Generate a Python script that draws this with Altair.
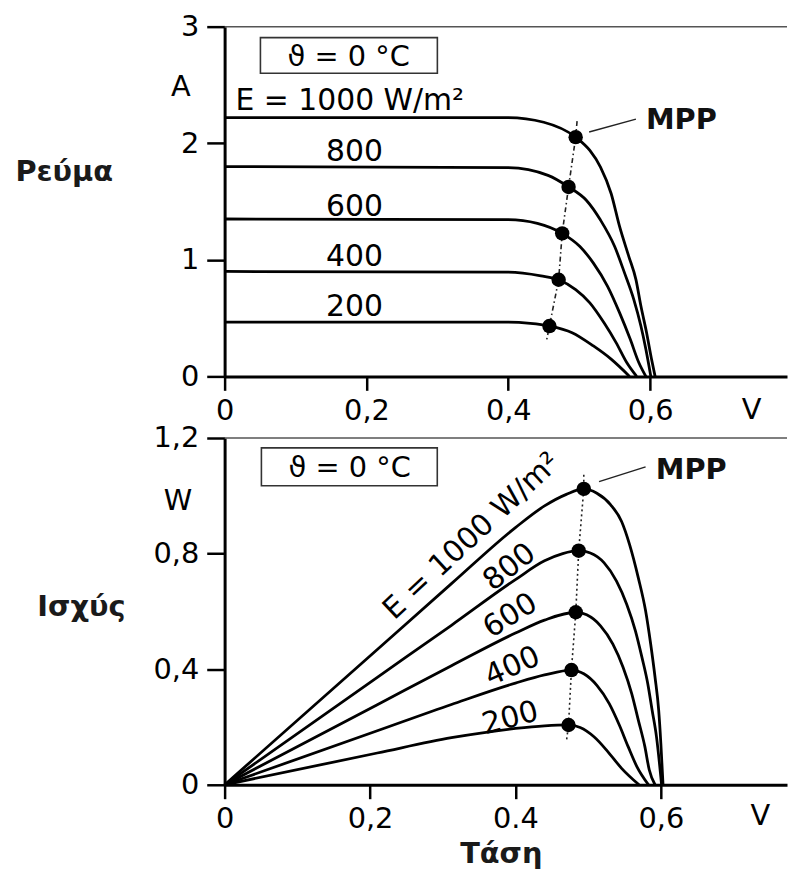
import altair as alt
import pandas as pd

FONT = "DejaVu Sans"

# ---------------- I-V curves (top panel) ----------------
iv_v_1000 = [0, 0.40, 0.45, 0.495, 0.515, 0.530, 0.545, 0.557, 0.570, 0.580, 0.587, 0.595, 0.602, 0.607]
iv_i_1000 = [2.22, 2.22, 2.18, 2.052, 1.938, 1.796, 1.569, 1.284, 1.028, 0.830, 0.603, 0.375, 0.148, 0.0]
iv_v_800 = [0, 0.40, 0.456, 0.485, 0.510, 0.530, 0.550, 0.564, 0.577, 0.587, 0.594, 0.601]
iv_i_800 = [1.80, 1.79, 1.724, 1.625, 1.511, 1.341, 1.114, 0.886, 0.659, 0.432, 0.233, 0.0]
iv_v_600 = [0, 0.40, 0.441, 0.476, 0.501, 0.520, 0.540, 0.557, 0.572, 0.584, 0.594]
iv_i_600 = [1.35, 1.345, 1.313, 1.227, 1.114, 0.972, 0.773, 0.545, 0.318, 0.119, 0.0]
iv_v_400 = [0, 0.40, 0.446, 0.471, 0.495, 0.515, 0.535, 0.552, 0.567, 0.581]
iv_i_400 = [0.90, 0.895, 0.863, 0.829, 0.744, 0.631, 0.460, 0.290, 0.119, 0.0]
iv_v_200 = [0, 0.40, 0.431, 0.458, 0.490, 0.520, 0.545, 0.571]
iv_i_200 = [0.466, 0.465, 0.455, 0.432, 0.375, 0.261, 0.148, 0.0]

mpp_iv_v = [0.495, 0.485, 0.476, 0.471, 0.458]
mpp_iv_i = [2.052, 1.625, 1.227, 0.829, 0.432]
mpp_iv_line_v = [0.497, 0.495, 0.485, 0.476, 0.471, 0.458, 0.454]
mpp_iv_line_i = [2.19, 2.052, 1.625, 1.227, 0.829, 0.432, 0.31]

# ---------------- P-V curves (bottom panel) ----------------
pv_v_1000 = [0, 0.21, 0.312, 0.40, 0.44, 0.47, 0.494, 0.512, 0.531, 0.546, 0.557, 0.569, 0.579, 0.586, 0.592, 0.597, 0.600, 0.603]
pv_p_1000 = [0, 0.468, 0.696, 0.89, 0.965, 1.005, 1.024, 1.009, 0.969, 0.911, 0.831, 0.716, 0.602, 0.487, 0.372, 0.258, 0.143, 0.0]
pv_v_800 = [0, 0.21, 0.312, 0.40, 0.44, 0.465, 0.487, 0.503, 0.522, 0.539, 0.553, 0.565, 0.574, 0.582, 0.588, 0.594, 0.601]
pv_p_800 = [0, 0.372, 0.552, 0.71, 0.775, 0.80, 0.81, 0.802, 0.768, 0.705, 0.625, 0.533, 0.441, 0.350, 0.258, 0.166, 0.0]
pv_v_600 = [0, 0.21, 0.312, 0.40, 0.44, 0.483, 0.498, 0.517, 0.534, 0.548, 0.560, 0.569, 0.578, 0.584, 0.592]
pv_p_600 = [0, 0.277, 0.412, 0.525, 0.57, 0.597, 0.588, 0.550, 0.487, 0.407, 0.315, 0.224, 0.132, 0.052, 0.0]
pv_v_400 = [0, 0.21, 0.312, 0.40, 0.44, 0.477, 0.494, 0.512, 0.529, 0.543, 0.555, 0.567, 0.583]
pv_p_400 = [0, 0.187, 0.278, 0.352, 0.38, 0.397, 0.384, 0.344, 0.281, 0.206, 0.132, 0.063, 0.0]
pv_v_200 = [0, 0.21, 0.312, 0.40, 0.44, 0.473, 0.489, 0.508, 0.527, 0.546, 0.570]
pv_p_200 = [0, 0.11, 0.163, 0.195, 0.204, 0.207, 0.198, 0.166, 0.115, 0.057, 0.0]

mpp_pv_v = [0.494, 0.487, 0.483, 0.477, 0.473]
mpp_pv_p = [1.024, 0.81, 0.597, 0.397, 0.207]
mpp_pv_line_v = [0.494, 0.494, 0.487, 0.483, 0.477, 0.473, 0.470]
mpp_pv_line_p = [1.073, 1.024, 0.81, 0.597, 0.397, 0.207, 0.148]

# ---------------- axis ticks / labels ----------------
x_ticks = [0, 0.2, 0.4, 0.6]
x_labels_top = ["0", "0,2", "0,4", "0,6"]
x_labels_bottom = ["0", "0,2", "0.4", "0,6"]
y_ticks_top = [0, 1, 2, 3]
y_labels_top = ["0", "1", "2", "3"]
y_ticks_bottom = [0, 0.4, 0.8, 1.2]
y_labels_bottom = ["0", "0,4", "0,8", "1,2"]

# ---------------- annotation texts ----------------
top_lab_txt = ["E = 1000 W/m²", "800", "600", "400", "200"]
top_lab_v = [0.0154, 0.143, 0.143, 0.143, 0.143]
top_lab_y = [2.284, 1.85, 1.372, 0.946, 0.52]

bot_lab_txt = ["E = 1000 W/m²", "800", "600", "400", "200"]
bot_lab_v = [0.340, 0.392, 0.393, 0.396, 0.393]
bot_lab_p = [0.860, 0.753, 0.585, 0.409, 0.230]
bot_lab_ang = [317, 322, 328, 336, 345]

theta_txt = "ϑ = 0 °C"


def lab_expr(vals, labs):
    expr = "''"
    for v, l in reversed(list(zip(vals, labs))):
        expr = f"(abs(datum.value - {v}) < 1e-6 ? '{l}' : {expr})"
    return expr


def curves_df(items):
    rows = []
    for e, vs, ys in items:
        for k, (v, y) in enumerate(zip(vs, ys)):
            rows.append({"E": e, "V": v, "Y": y, "k": k})
    return pd.DataFrame(rows)


iv_df = curves_df([
    ("1000", iv_v_1000, iv_i_1000), ("800", iv_v_800, iv_i_800),
    ("600", iv_v_600, iv_i_600), ("400", iv_v_400, iv_i_400),
    ("200", iv_v_200, iv_i_200)])
pv_df = curves_df([
    ("1000", pv_v_1000, pv_p_1000), ("800", pv_v_800, pv_p_800),
    ("600", pv_v_600, pv_p_600), ("400", pv_v_400, pv_p_400),
    ("200", pv_v_200, pv_p_200)])

W = 566
H_TOP = 352
H_BOT = 349


def panel(curves, mpp_v, mpp_y, line_v, line_y, xdom, ydom, yticks, ylabels,
          xlabels, ytitle, ytitle_x, ytitle_y, xtitle, labels_df, unit_y,
          unit_pos, mpp_text_pos, leader, box, theta_pos, dash, height,
          rotated):
    xs = alt.Scale(domain=xdom, nice=False, zero=False)
    ys = alt.Scale(domain=ydom, nice=False, zero=False)
    if xtitle:
        xaxis = alt.Axis(values=x_ticks, labelExpr=lab_expr(x_ticks, xlabels),
                         title=xtitle, titleX=278, titleY=78,
                         titleAlign="center", titleBaseline="alphabetic",
                         titleFontSize=29, titleFontWeight="bold",
                         titleColor="#1a1a1a")
    else:
        xaxis = alt.Axis(values=x_ticks, labelExpr=lab_expr(x_ticks, xlabels),
                         title=None)
    yaxis = alt.Axis(values=yticks, labelExpr=lab_expr(yticks, ylabels),
                     title=ytitle, titleAngle=0, titleX=ytitle_x,
                     titleY=ytitle_y, titleAlign="left",
                     titleBaseline="alphabetic", titleFontSize=29,
                     titleFontWeight="bold", titleColor="#1a1a1a")
    X = alt.X("V:Q", scale=xs, axis=xaxis)
    Y = alt.Y("Y:Q", scale=ys, axis=yaxis)

    border = alt.Chart(pd.DataFrame({"Y": [ydom[1]]})).mark_rule(
        color="#555", strokeWidth=1.5).encode(y=Y)

    lines = alt.Chart(curves).mark_line(
        interpolate="monotone", color="black", strokeWidth=2.8
    ).encode(x=X, y=Y, detail="E:N", order="k:Q")

    mline_df = pd.DataFrame({"V": line_v, "Y": line_y,
                             "k": list(range(len(line_v)))})
    mline = alt.Chart(mline_df).mark_line(
        color="#222", strokeWidth=1.6, strokeDash=dash
    ).encode(x=X, y=Y, order="k:Q")

    pts = alt.Chart(pd.DataFrame({"V": mpp_v, "Y": mpp_y})).mark_circle(
        size=210, color="black", opacity=1).encode(x=X, y=Y)

    lead_df = pd.DataFrame({"V": [leader[0], leader[2]],
                            "Y": [leader[1], leader[3]], "k": [0, 1]})
    lead = alt.Chart(lead_df).mark_line(color="#222", strokeWidth=1.5).encode(
        x=X, y=Y, order="k:Q")

    mpp_txt = alt.Chart(pd.DataFrame({"V": [mpp_text_pos[0]],
                                      "Y": [mpp_text_pos[1]],
                                      "t": ["MPP"]})).mark_text(
        align="left", baseline="alphabetic", font=FONT, fontSize=29,
        fontWeight="bold", color="#111").encode(x=X, y=Y, text="t:N")

    box_df = pd.DataFrame({"V": [box[0]], "V2": [box[1]],
                           "Y": [box[2]], "Y2": [box[3]]})
    boxm = alt.Chart(box_df).mark_rect(
        fill="white", stroke="#333", strokeWidth=1.6).encode(
        x=X, x2="V2:Q", y=Y, y2="Y2:Q")
    theta = alt.Chart(pd.DataFrame({"V": [theta_pos[0]], "Y": [theta_pos[1]],
                                    "t": [theta_txt]})).mark_text(
        align="center", baseline="alphabetic", font=FONT, fontSize=29,
        color="black").encode(x=X, y=Y, text="t:N")

    units_df = pd.DataFrame({"V": [unit_pos[0], unit_pos[2]],
                             "Y": [unit_pos[1], unit_pos[3]],
                             "t": [unit_y, "V"]})
    units = alt.Chart(units_df).mark_text(
        align="center", baseline="alphabetic", font=FONT, fontSize=29,
        color="black").encode(x=X, y=Y, text="t:N")

    if rotated:
        labs = alt.Chart(labels_df).mark_text(
            align="center", baseline="middle", font=FONT, fontSize=30,
            color="black").encode(x=X, y=Y, text="t:N",
                                  angle=alt.Angle("ang:Q", scale=None))
    else:
        labs = alt.Chart(labels_df).mark_text(
            align="left", baseline="alphabetic", font=FONT, fontSize=30,
            color="black").encode(x=X, y=Y, text="t:N")

    return alt.layer(border, lines, mline, pts, lead, mpp_txt, boxm, theta,
                     units, labs).properties(width=W, height=height)


top_labels_df = pd.DataFrame({"V": top_lab_v, "Y": top_lab_y, "t": top_lab_txt})
bot_labels_df = pd.DataFrame({"V": bot_lab_v, "Y": bot_lab_p, "t": bot_lab_txt,
                              "ang": bot_lab_ang})

top = panel(iv_df, mpp_iv_v, mpp_iv_i, mpp_iv_line_v, mpp_iv_line_i,
            [0, 0.793], [0, 3], y_ticks_top, y_labels_top, x_labels_top,
            "Ρεύμα", -211, 155, None, top_labels_df, "A",
            (-0.0617, 2.403, 0.743, -0.366), (0.594, 2.122),
            (0.514, 2.097, 0.580, 2.207), (0.0505, 0.300, 2.906, 2.600),
            (0.175, 2.659), [5, 3, 1.5, 3], H_TOP, False)

bottom = panel(pv_df, mpp_pv_v, mpp_pv_p, mpp_pv_line_v, mpp_pv_line_p,
               [0, 0.7735], [0, 1.2], y_ticks_bottom, y_labels_bottom,
               x_labels_bottom, "Ισχύς", -189, 179, "Τάση", bot_labels_df,
               "W", (-0.064, 0.952, 0.737, -0.1375), (0.593, 1.059),
               (0.515, 1.049, 0.579, 1.10), (0.0506, 0.2925, 1.166, 1.035),
               (0.172, 1.066), [2, 3], H_BOT, True)

chart = alt.vconcat(top, bottom, spacing=62, bounds="flush").properties(
    padding={"left": 7, "top": 2, "right": 0, "bottom": 0}
).configure_view(stroke=None).configure_axis(
    domainColor="black", domainWidth=3, tickColor="black", tickWidth=2.5,
    labelFont=FONT, labelFontSize=29, labelColor="black", grid=False,
    titleFont=FONT, labelFlush=False
).configure_axisX(tickSize=14, labelPadding=6).configure_axisY(
    tickSize=18, labelPadding=8)

chart.save("out.html", embed_options={"renderer": "svg", "actions": False})
